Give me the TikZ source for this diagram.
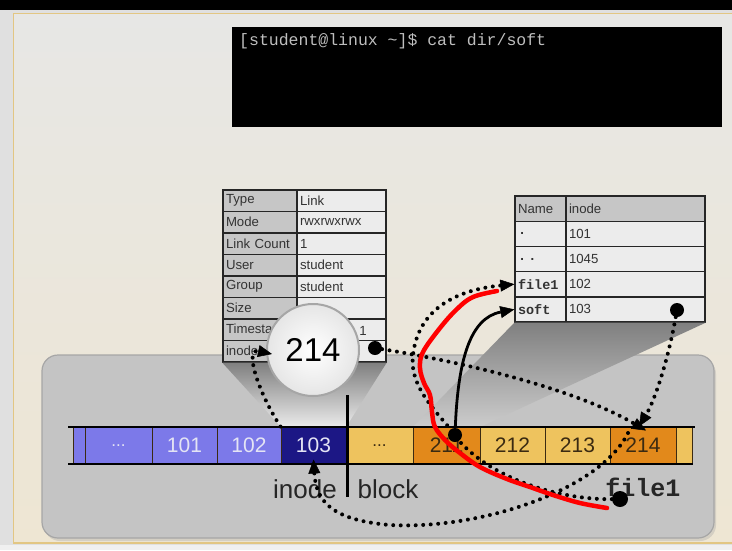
\documentclass[tikz,border=0pt]{standalone}
\usepackage{fontspec}
\setmainfont{Liberation Sans}
\setmonofont{Liberation Mono}
\usetikzlibrary{arrows.meta}

\definecolor{slidetop}{HTML}{E7E7E5}
\definecolor{slidebot}{HTML}{EEE6D3}
\definecolor{rimgold}{HTML}{E2C683}
\definecolor{panelgray}{HTML}{C4C4C4}
\definecolor{paneledge}{HTML}{A6A6A6}
\definecolor{inodeblue}{HTML}{7C79E9}
\definecolor{inodenavy}{HTML}{1C1785}
\definecolor{blockyel}{HTML}{EEC35E}
\definecolor{blockorg}{HTML}{E2891B}
\definecolor{celledge}{HTML}{3B2A12}
\definecolor{celltext}{HTML}{3A2A12}
\definecolor{bluetext}{HTML}{E4E4F4}
\definecolor{labelgray}{HTML}{C6C6C6}
\definecolor{valuegray}{HTML}{ECECEC}
\definecolor{termtext}{HTML}{BEBEBE}

\newcommand\fsz[1]{\fontsize{#1}{#1}\selectfont}

\begin{document}
\begin{tikzpicture}[x=1pt,y=-1pt,
  cell/.style={draw=celledge, line width=1pt, minimum height=37pt, inner sep=0pt,
    font=\fsz{21}},
  bluecell/.style={cell, fill=inodeblue, text=bluetext},
  yelcell/.style={cell, fill=blockyel, text=celltext},
  orgcell/.style={cell, fill=blockorg, text=celltext},
  tcell/.style={draw=black!85, line width=1.4pt, inner xsep=3pt, inner ysep=0pt,
    align=left, font=\fsz{13.2}, text=black!80},
  ilab/.style={tcell, fill=labelgray, text width=68pt, minimum height=21.5pt},
  ival/.style={tcell, fill=valuegray, text width=83pt, minimum height=21.5pt},
  dlab/.style={tcell, fill=valuegray, text width=45pt, minimum height=25.2pt},
  dval/.style={tcell, fill=valuegray, text width=133pt, minimum height=25.2pt},
  blackdot/.style={circle, fill=black, minimum size=14pt, inner sep=0pt},
  tip/.style={-{Triangle[length=14pt 0, width=12pt 0, line width=0.5pt]}},
  dotarrow/.style={line width=4pt, line cap=round, dash pattern=on 0pt off 7.5pt, tip},
  solidarrow/.style={line width=2.8pt, tip},
  bigword/.style={font=\fsz{26}, text=black!85, inner sep=0pt}]

\useasboundingbox (0,0) rectangle (732,550);

% slide background and frame
\fill[black!12] (0,0) rectangle (732,550);
\fill[black] (0,0) rectangle (732,10);
\shade[top color=slidetop, bottom color=slidebot] (13,13) rectangle (732,543);
\fill[black!6] (0,544.5) rectangle (732,550);
\draw[rimgold, line width=1.6pt] (732,13.5) -- (13.5,13.5) -- (13.5,543) -- (732,543);

% terminal window
\node[fill=black, minimum width=490pt, minimum height=100pt, inner sep=0pt,
  anchor=north west] (term) at (232,27) {};
\node[anchor=north west, inner sep=0pt, text=termtext, font=\ttfamily\fsz{16.5}]
  (cmd) at (239,33) {[student@linux \textasciitilde]\$ cat dir/soft};

% gray panel
\fill[black!35, opacity=0.35, rounded corners=16pt] (44,358) rectangle (716,541);
\draw[fill=panelgray, draw=paneledge, line width=1.2pt, rounded corners=16pt]
  (42,355) rectangle (714,538);

% inode table
\foreach \lab/\val [count=\i] in {Type/Link, Mode/rwxrwxrwx, Link Count/1,
    User/student, Group/student, Size/{}, Timestamp/{}, inode/{}} {
  \node[ilab] (il\i) at (260, 179.25+21.5*\i) {\lab};
  \node[ival] (iv\i) at (341.5, 179.25+21.5*\i) {\val};
}
\node[font=\fsz{13.2}, text=black!80, inner sep=0pt] (tsval) at (363,331) {1};

% directory table
\node[dlab, fill=labelgray] (dn0) at (540.5,208.6) {Name};
\node[dval, fill=labelgray] (dv0) at (635.5,208.6) {inode};
\foreach \nm/\val [count=\i] in {./101, {.\,.}/1045, file1/102, soft/103} {
  \node[dlab, font=\ttfamily\bfseries\fsz{13.5}] (dn\i) at (540.5,208.6+25.2*\i) {\nm};
  \node[dval] (dv\i) at (635.5,208.6+25.2*\i) {\val};
}

% projection cones onto the panel
\shade[top color=black!50, bottom color=black!8]
  (il8.south west) -- (iv8.south east) -- (346,427) -- (281,427) -- cycle;
\shade[top color=black!50, middle color=black!4, bottom color=black!20]
  (dn4.south west) -- (dv4.south east) -- (480,427) -- (413,427) -- cycle;

% block bar: inode area, then data blocks
\node[bluecell, minimum width=12pt] (cs0) at (79,445.5) {};
\node[bluecell, minimum width=67pt, font=\fsz{17}] (cs1) at (118.5,445.5) {...};
\node[bluecell, minimum width=65pt] (c101) at (184.5,445.5) {101};
\node[bluecell, minimum width=64pt] (c102) at (249,445.5) {102};
\node[bluecell, fill=inodenavy, minimum width=65pt] (c103) at (313.5,445.5) {103};
\node[yelcell, minimum width=67pt, font=\fsz{17}] (cb0) at (379.5,445.5) {...};
\node[orgcell, minimum width=67pt] (c211) at (446.5,445.5) {211};
\node[yelcell, minimum width=65pt] (c212) at (512.5,445.5) {212};
\node[yelcell, minimum width=65pt] (c213) at (577.5,445.5) {213};
\node[orgcell, minimum width=66pt] (c214) at (643,445.5) {214};
\node[yelcell, minimum width=16pt] (cend) at (684,445.5) {};
\draw[line width=2pt] (68,427) -- (695,427);
\draw[line width=2pt] (68,464) -- (693,464);

% inode | block divider and captions
\draw[line width=3pt] (347,395) -- (347,497);
\node[bigword] (capinode) at (305,489) {inode};
\node[bigword] (capblock) at (388,489) {block};
\node[font=\ttfamily\bfseries\fsz{25}, text=black!85, inner sep=0pt] (capfile) at (643,487) {file1};

% magnifier over the inode row
\node[circle, draw=black!35, line width=2pt, inner color=white, outer color=black!10,
  minimum size=92pt, font=\fsz{33}] (mag) at (313,350) {214};

% end points
\node[blackdot] (idot) at (375,348) {};
\node[blackdot] (sdot) at (677,310) {};
\node[blackdot] (d211) at (455,435) {};
\node[blackdot, minimum size=16pt] (fdot) at (620,499) {};
\coordinate (b214) at (628,433);

% pointers
\draw[dotarrow] (c103.north west) .. controls (258,392) and (244,348) .. (272,354);
\draw[dotarrow] (idot) .. controls (480,365) and (580,392) .. ([xshift=3pt,yshift=-4pt]c214.north);
\draw[dotarrow] (sdot) .. controls (668,360) and (655,400) .. ([xshift=-4pt]c214.north);
\draw[dotarrow] (b214) .. controls (600,490) and (480,530) .. (390,525)
  .. controls (330,520) and (316,500) .. ([yshift=5pt]c103.south);
\draw[dotarrow] (fdot) .. controls (560,500) and (480,478) .. (447,425)
  .. controls (425,400) and (410,380) .. (413,355)
  .. controls (418,310) and (455,290) .. (dn3.west);
\draw[solidarrow] (d211) .. controls (458,360) and (470,318) .. (dn4.west);

% red freehand stroke
\draw[red, line width=4.5pt, line cap=round, line join=round]
  plot[smooth, tension=0.6] coordinates {(497,291) (473,297) (457,309) (440,328)
  (423,352) (420,368) (424,383) (430,395) (432,412) (435,427) (446,441) (460,453)
  (480,467) (507,479) (530,487) (553,495) (580,503) (607,508)};

\end{tikzpicture}
\end{document}
